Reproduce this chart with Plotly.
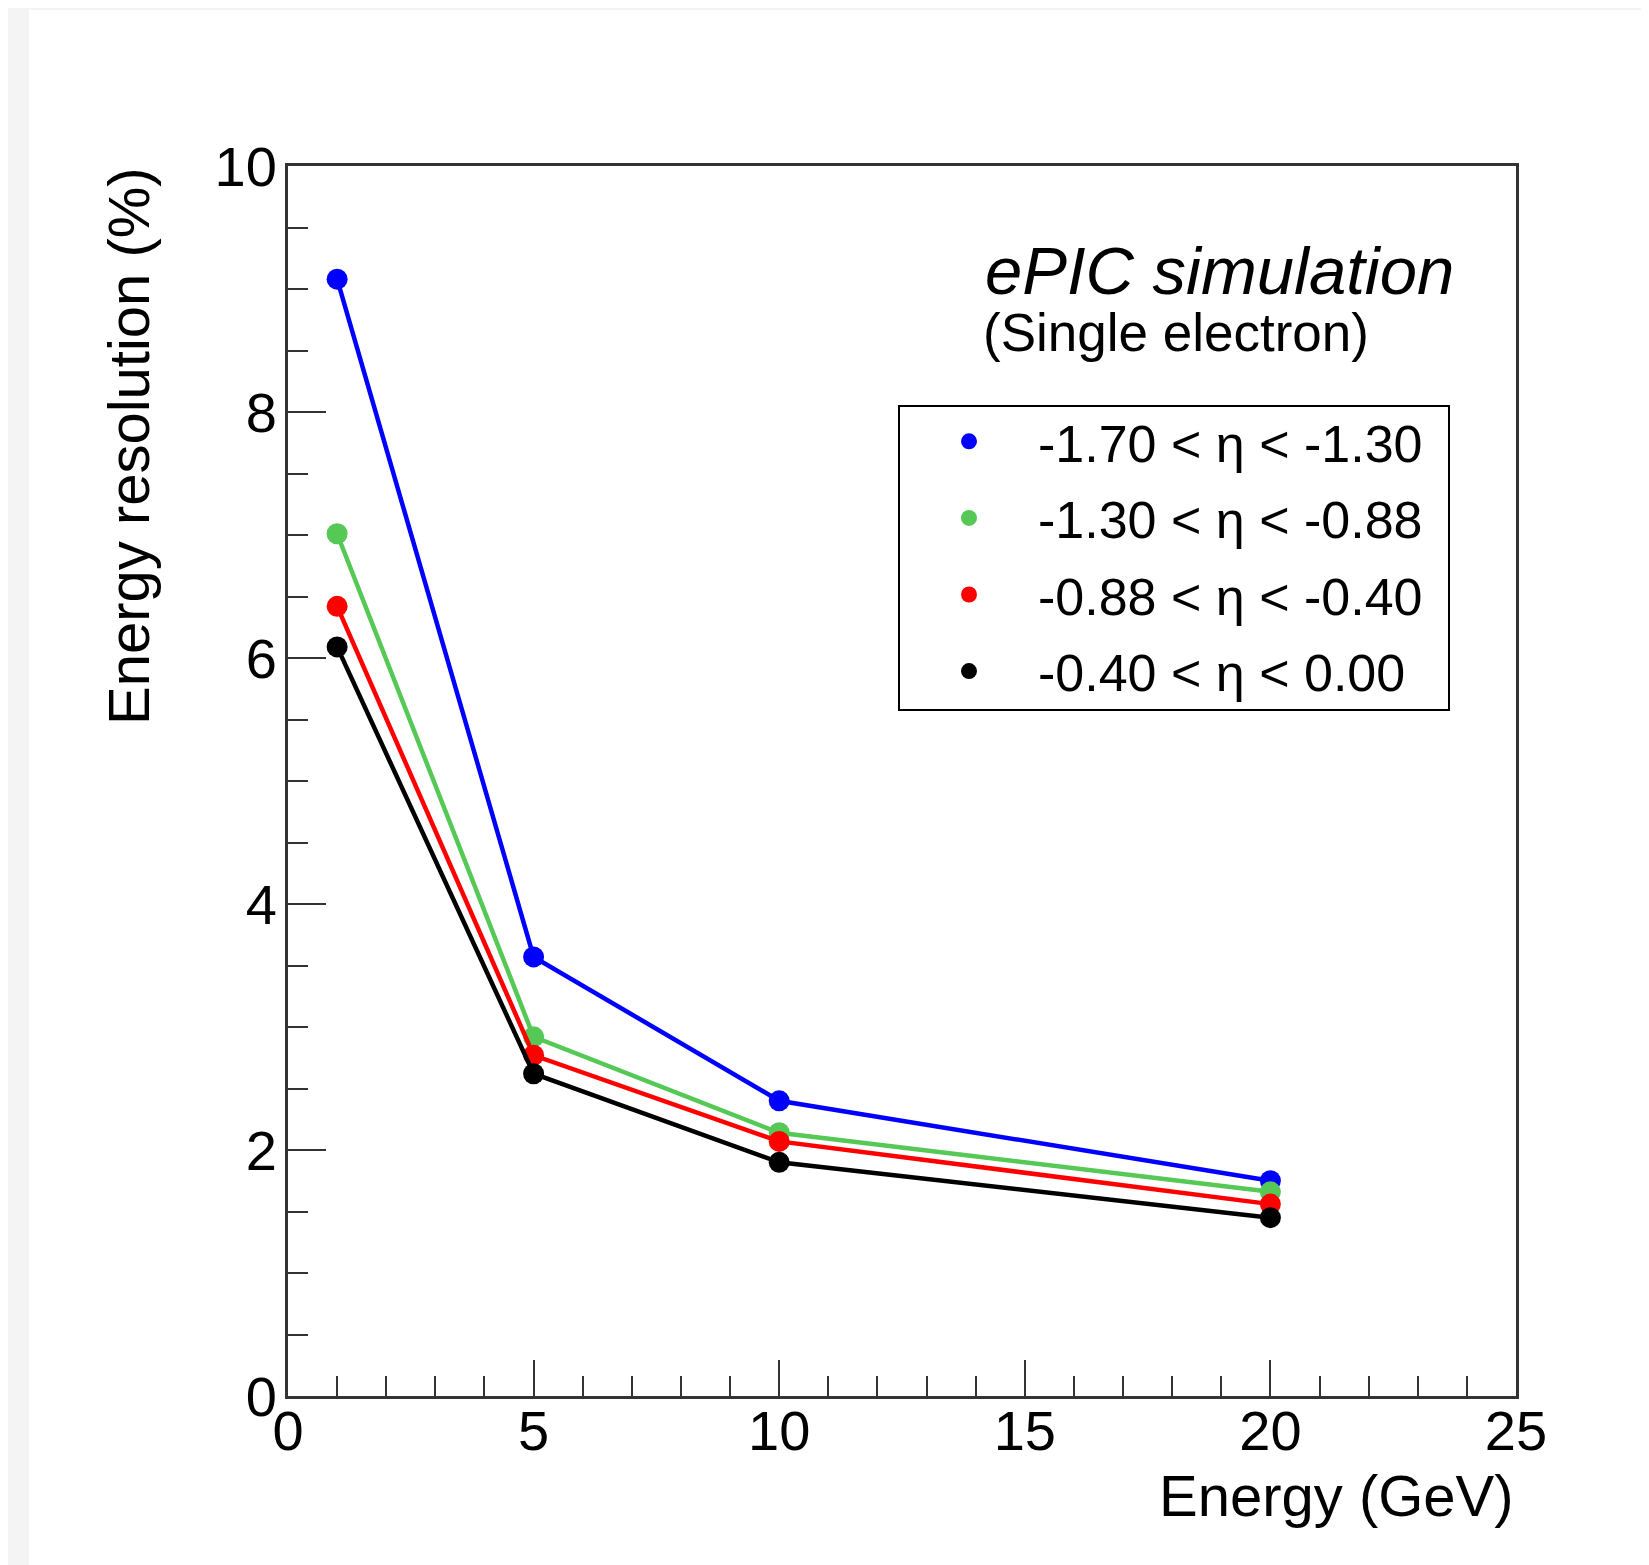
import plotly.graph_objects as go

# energy points (GeV)
energy = [1, 5, 10, 20]

# energy resolution (%) per eta bin
res_eta_170_130 = [9.08, 3.57, 2.40, 1.75]
res_eta_130_088 = [7.01, 2.92, 2.14, 1.66]
res_eta_088_040 = [6.42, 2.77, 2.07, 1.56]
res_eta_040_000 = [6.09, 2.62, 1.90, 1.45]

labels = [
    "-1.70 < η < -1.30",
    "-1.30 < η < -0.88",
    "-0.88 < η < -0.40",
    "-0.40 < η < 0.00",
]
colors = ["#0000ff", "#55c855", "#ff0000", "#000000"]
series = [res_eta_170_130, res_eta_130_088, res_eta_088_040, res_eta_040_000]

W, H = 1649, 1565
L, R, T, B = 280, 141, 158, 177
pw, ph = W - L - R, H - T - B
OFF = 8  # body margin of the html page


def px_x(x):
    # page pixel -> paper coord
    return (x - OFF - L) / pw


def px_y(y):
    return (H - B - (y - OFF)) / ph


FONT = "Liberation Sans, Arial, sans-serif"

fig = go.Figure()

for name, col, vals in zip(labels, colors, series):
    fig.add_trace(go.Scatter(x=energy, y=vals, mode="lines+markers", showlegend=False,
                             line=dict(color=col, width=4.5),
                             marker=dict(color=col, size=21), name=name))

# marker-only entries for the legend
for i, (name, col) in enumerate(zip(labels, colors)):
    fig.add_trace(go.Scatter(x=[None], y=[None], mode="markers", name=name,
                             legendgroup=f"g{i}",
                             marker=dict(color=col, size=18)))

axis_common = dict(showline=True, linecolor="#333333", linewidth=3, mirror=True,
                   ticks="inside", tickcolor="#333333", tickwidth=2,
                   showgrid=False, zeroline=False,
                   tickfont=dict(family=FONT, size=56, color="black"))

fig.update_xaxes(range=[0, 25], dtick=5, tick0=0, ticklen=36, ticklabelstandoff=-16,
                 minor=dict(ticks="inside", dtick=1, ticklen=20, tickcolor="#333333", tickwidth=2),
                 **axis_common)
fig.update_yaxes(range=[0, 10], dtick=2, tick0=0, ticklen=38, ticklabelstandoff=-3,
                 minor=dict(ticks="inside", dtick=0.5, ticklen=20, tickcolor="#333333", tickwidth=2),
                 **axis_common)

fig.update_layout(
    width=W, height=H,
    margin=dict(l=L, r=R, t=T, b=B),
    paper_bgcolor="#f4f4f4",
    plot_bgcolor="white",
    font=dict(family=FONT, color="black"),
    legend=dict(x=px_x(900), y=px_y(401), xanchor="left", yanchor="top",
                bgcolor="rgba(0,0,0,0)", borderwidth=0, traceorder="grouped",
                itemwidth=128, font=dict(family=FONT, size=52, color="black"),
                tracegroupgap=6),
    shapes=[
        dict(type="rect", xref="paper", yref="paper", layer="below",
             x0=px_x(29), x1=px_x(W + 20), y0=px_y(H + 20), y1=px_y(10),
             fillcolor="white", line=dict(width=0)),
        dict(type="rect", xref="paper", yref="paper",
             x0=px_x(899), x1=px_x(1449), y0=px_y(710), y1=px_y(406),
             fillcolor="rgba(0,0,0,0)", line=dict(color="black", width=2)),
    ],
    annotations=[
        dict(text="Energy resolution (%)", xref="paper", yref="paper",
             x=px_x(128), y=px_y(165), xanchor="center", yanchor="top", textangle=-90,
             showarrow=False, font=dict(family=FONT, size=58, color="black")),
        dict(text="Energy (GeV)", xref="paper", yref="paper",
             x=1.0, y=px_y(1495), xanchor="right", yanchor="middle",
             showarrow=False, font=dict(family=FONT, size=58, color="black")),
        dict(text="<i>ePIC simulation</i>", xref="paper", yref="paper",
             x=px_x(983), y=px_y(271), xanchor="left", yanchor="middle",
             showarrow=False, font=dict(family=FONT, size=67, color="black")),
        dict(text="(Single electron)", xref="paper", yref="paper",
             x=px_x(981), y=px_y(332), xanchor="left", yanchor="middle",
             showarrow=False, font=dict(family=FONT, size=53, color="black")),
    ],
)

fig.write_html("out.html")
